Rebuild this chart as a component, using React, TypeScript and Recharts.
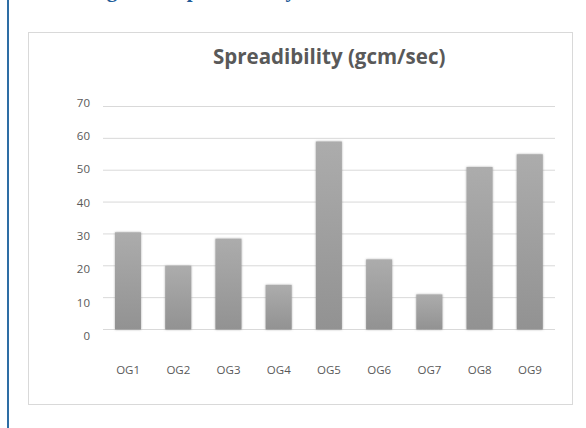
import { BarChart, Bar, XAxis, YAxis, CartesianGrid } from "recharts";

// spreadability per batch, gcm/sec
const batches = ["OG1", "OG2", "OG3", "OG4", "OG5", "OG6", "OG7", "OG8", "OG9"];
const spreadability = [30.5, 20, 28.5, 14, 59, 22, 11, 51, 55];
const yTicks = [0, 10, 20, 30, 40, 50, 60, 70];

const data = batches.map((name, i) => ({ name, value: spreadability[i] }));

const textColor = "#595959";
const tickFont = "'Open Sans', 'Noto Sans', sans-serif";

const YTick = (props: any) => {
  const { x, y, payload } = props;
  // labels sit on a slightly wider spacing than the gridlines
  const shift = 6.4 - payload.value * 0.149;
  return (
    <text x={x} y={y + shift} dy="0.355em" textAnchor="end" fill={textColor} fontSize={11.5} fontFamily={tickFont}>
      {payload.value}
    </text>
  );
};

const XTick = (props: any) => {
  const { x, y, payload } = props;
  return (
    <text x={x} y={y + 40.5} dy="0.355em" textAnchor="middle" fill={textColor} fontSize={11.5} fontFamily={tickFont}>
      {payload.value}
    </text>
  );
};

const BarShape = (props: any) => {
  const { x, y, width, height } = props;
  return <rect x={x} y={y} width={width} height={height} fill="url(#barFill)" filter="url(#barShadow)" />;
};

export default function App() {
  return (
    <div style={{ position: "fixed", left: 0, top: 0, width: 586, height: 428, background: "#fff", overflow: "hidden" }}>
      {/* left page rule */}
      <div style={{ position: "absolute", left: 7, top: 0, width: 2, height: 428, background: "#2e6da4" }} />

      {/* figure caption, mostly above the page edge */}
      <div
        style={{
          position: "absolute",
          left: 88,
          top: -22.5,
          fontFamily: "'Liberation Serif', 'Times New Roman', serif",
          fontWeight: "bold",
          fontSize: 21,
          lineHeight: "24px",
          color: "#1f5c99",
          whiteSpace: "nowrap",
        }}
      >
        Figure 3: Spreadability of various batches
      </div>

      {/* chart frame */}
      <div
        style={{
          position: "absolute",
          left: 28,
          top: 32,
          width: 545,
          height: 373,
          boxSizing: "border-box",
          border: "1px solid #d9d9d9",
        }}
      />

      <div
        style={{
          position: "absolute",
          left: 213,
          top: 44,
          fontFamily: "'Open Sans', sans-serif",
          fontWeight: 700,
          fontSize: 20.5,
          lineHeight: "24px",
          color: textColor,
          whiteSpace: "nowrap",
        }}
      >
        Spreadibility (gcm/sec)
      </div>

      <div style={{ position: "absolute", left: 28, top: 32 }}>
        <BarChart
          width={544}
          height={372}
          data={data}
          margin={{ top: 74.5, right: 17, left: 0, bottom: 44.5 }}
          barSize={26}
        >
          <defs>
            <linearGradient id="barFill" x1="0" y1="0" x2="0" y2="1">
              <stop offset="0%" stopColor="#acacac" />
              <stop offset="100%" stopColor="#929292" />
            </linearGradient>
            <filter id="barShadow" x="-30%" y="-10%" width="160%" height="120%">
              <feDropShadow dx="0" dy="0" stdDeviation="1.3" floodColor="#808080" floodOpacity="0.65" />
            </filter>
          </defs>
          <CartesianGrid vertical={false} stroke="#d9d9d9" strokeWidth={1} />
          <XAxis
            dataKey="name"
            axisLine={false}
            tickLine={false}
            tickSize={0}
            tickMargin={0}
            height={30}
            tick={<XTick />}
            interval={0}
          />
          <YAxis
            domain={[0, 70]}
            ticks={yTicks}
            axisLine={false}
            tickLine={false}
            tickSize={0}
            tickMargin={13}
            width={75}
            tick={<YTick />}
          />
          <Bar dataKey="value" shape={<BarShape />} isAnimationActive={false} />
        </BarChart>
      </div>
    </div>
  );
}
